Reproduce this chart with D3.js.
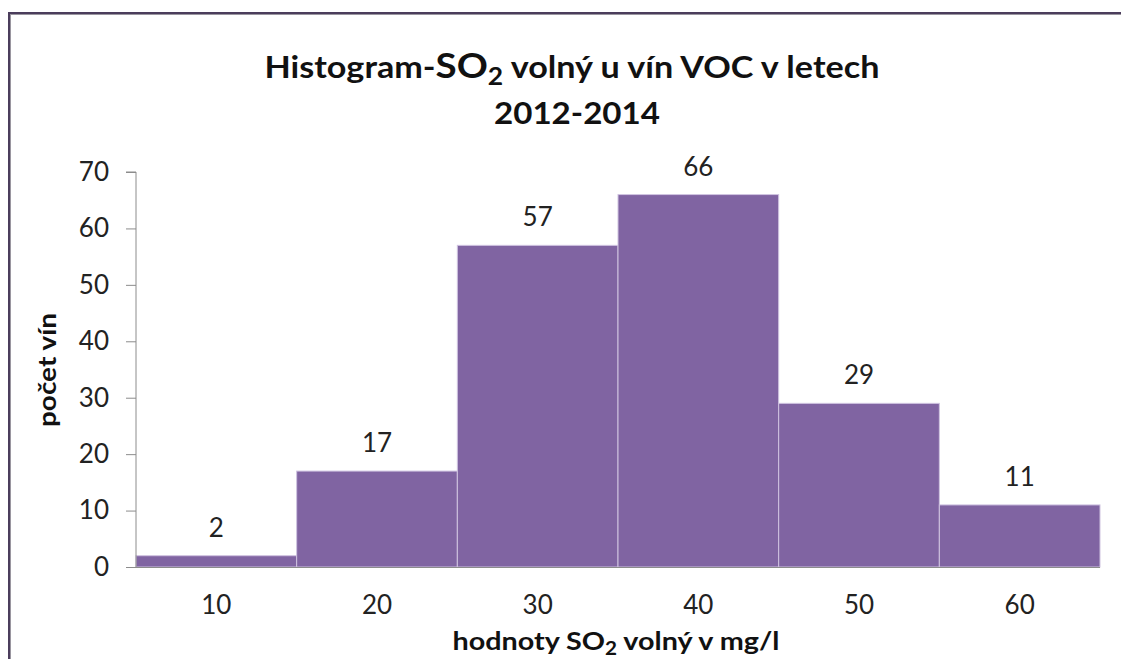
<!DOCTYPE html>
<html><head><meta charset="utf-8">
<script src="https://cdn.jsdelivr.net/npm/d3@7"></script>
<style>body{margin:0;background:#fff;} svg{display:block;}</style>
</head><body>
<svg id="c" width="1121" height="659"></svg>
<script>
const categories = ["10","20","30","40","50","60"];
const counts = [2,17,57,66,29,11];
const yTicks = [0,10,20,30,40,50,60,70];

(function(){
const W = 1121, H = 659;
const svg = d3.select("#c");
const font = "Lato, 'Open Sans', sans-serif";

function fitWidth(sel, cx, target){
  const w = sel.node().getComputedTextLength();
  const s = target / w;
  sel.attr("transform",`translate(${cx},0) scale(${s},1) translate(${-cx},0)`);
}

// frame
svg.append("rect").attr("x",10).attr("y",14).attr("width",W+20).attr("height",H+20)
  .attr("fill","none").attr("stroke","#9a96a0").attr("stroke-width",2);
svg.append("rect").attr("x",9).attr("y",13).attr("width",W+20).attr("height",H+20)
  .attr("fill","none").attr("stroke","#4b3d5c").attr("stroke-width",2);

const pl = 136, pr = 1100, pt = 172, pb = 567;
const x = d3.scaleBand().domain(categories).range([pl,pr]).paddingInner(0).paddingOuter(0);
const y = d3.scaleLinear().domain([0,70]).range([pb,pt]);

// bars
svg.append("g").selectAll("rect").data(counts).join("rect")
  .attr("x",(d,i)=>x(categories[i]))
  .attr("y",d=>y(d))
  .attr("width",x.bandwidth())
  .attr("height",d=>pb-y(d))
  .attr("fill","#8064a2")
  .attr("stroke","#cfc3e0").attr("stroke-width",1);

// y axis
const ya = svg.append("g").attr("transform",`translate(${pl},0)`)
  .call(d3.axisLeft(y).tickValues(yTicks).tickSize(10).tickPadding(17));
ya.selectAll("path,line").attr("stroke","#8c8c8c");
ya.select(".domain").attr("d",`M-10,${pt}H0V${pb}`);
ya.selectAll("text").attr("font-family",font).attr("font-size",26).attr("fill","#222");

// x axis baseline
const xa = svg.append("g").attr("transform",`translate(0,${pb})`)
  .call(d3.axisBottom(x).tickSize(0).tickPadding(29));
xa.select(".domain").attr("stroke","#8c8c8c").attr("d",`M${pl-10},0.5H${pr}`);
xa.selectAll("text").attr("font-family",font).attr("font-size",26).attr("fill","#222");

// data labels
svg.append("g").selectAll("text").data(counts).join("text")
  .attr("x",(d,i)=>x(categories[i])+x.bandwidth()/2)
  .attr("y",d=>y(d)-19)
  .attr("text-anchor","middle")
  .attr("font-family",font).attr("font-size",26).attr("fill","#222")
  .text(d=>d);

// title
const t = svg.append("text").attr("x",572).attr("y",78).attr("text-anchor","middle")
  .attr("font-family",font).attr("font-weight","bold").attr("font-size",31).attr("fill","#111");
t.append("tspan").text("Histogram-");
t.append("tspan").attr("font-size",35).text("SO");
t.append("tspan").attr("font-size",24).attr("dy",7).text("2");
t.append("tspan").attr("dy",-7).text(" volný u vín VOC v letech");
fitWidth(t, 572, 615);
const t2 = svg.append("text").attr("x",577).attr("y",124).attr("text-anchor","middle")
  .attr("font-family",font).attr("font-weight","bold").attr("font-size",31).attr("fill","#111")
  .text("2012-2014");
fitWidth(t2, 577, 166);

// x axis title
const xt = svg.append("text").attr("x",616).attr("y",650).attr("text-anchor","middle")
  .attr("font-family",font).attr("font-weight","bold").attr("font-size",25).attr("fill","#111");
xt.append("tspan").text("hodnoty SO");
xt.append("tspan").attr("font-size",18).attr("dy",5).text("2");
xt.append("tspan").attr("dy",-5).text(" volný v mg/l");
fitWidth(xt, 616, 327);

// y axis title
const yt = svg.append("text").attr("x",0).attr("y",0).attr("text-anchor","middle")
  .attr("font-family",font).attr("font-weight","bold").attr("font-size",25).attr("fill","#111")
  .text("počet vín");
const yw = yt.node().getComputedTextLength();
yt.attr("transform",`translate(56,370) rotate(-90) scale(${114/yw},1)`);
})();
</script>
</body></html>
